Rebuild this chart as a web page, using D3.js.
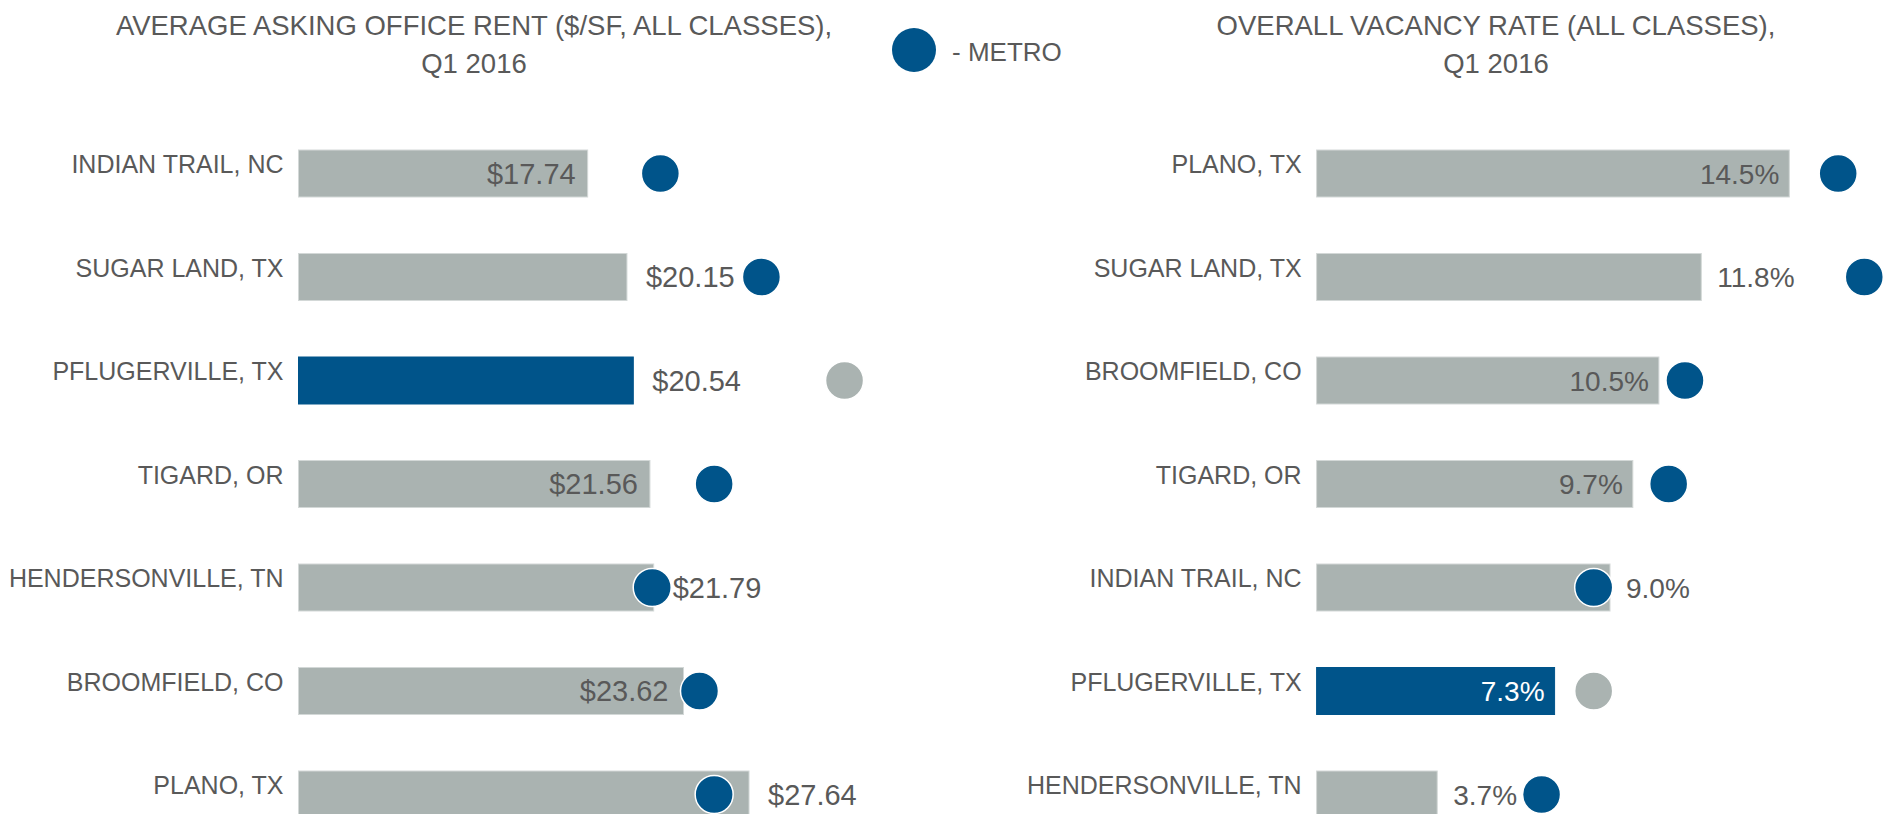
<!DOCTYPE html>
<html>
<head>
<meta charset="utf-8">
<script src="https://cdnjs.cloudflare.com/ajax/libs/d3/7.8.5/d3.min.js"></script>
<style>
  body { margin: 0; background: #fff; }
  text { font-family: "Liberation Sans", Arial, sans-serif; fill: #595959; }
</style>
</head>
<body>
<div id="chart"></div>
<script>
// Left panel: asking rent
let rentCities = ["INDIAN TRAIL, NC", "SUGAR LAND, TX", "PFLUGERVILLE, TX", "TIGARD, OR",
                  "HENDERSONVILLE, TN", "BROOMFIELD, CO", "PLANO, TX"];
let rentValues = [17.74, 20.15, 20.54, 21.56, 21.79, 23.62, 27.64];
let rentMetro  = [22.2, 28.4, 33.5, 25.5, 21.7, 24.6, 25.5];
let rentLabelSide = ["in", "out", "out", "in", "out", "in", "out"];

// Right panel: vacancy rate
let vacCities = ["PLANO, TX", "SUGAR LAND, TX", "BROOMFIELD, CO", "TIGARD, OR",
                 "INDIAN TRAIL, NC", "PFLUGERVILLE, TX", "HENDERSONVILLE, TN"];
let vacValues = [14.5, 11.8, 10.5, 9.7, 9.0, 7.3, 3.7];
let vacMetro  = [16.0, 16.8, 11.3, 10.8, 8.5, 8.5, 6.9];
let vacLabelSide = ["in", "out", "in", "in", "out", "in", "out"];

let highlight = "PFLUGERVILLE, TX";

let svgWidth = 1894, svgHeight = 814;
let blue = '#00548a', gray = '#aab3b1', textColor = '#595959';

let svg = d3.select('#chart')
            .append('svg')
            .attr('width', svgWidth)
            .attr('height', svgHeight);

// shared row scale
function rowScale(cats) {
    return d3.scaleBand()
             .domain(cats)
             .range([150, 150 + 6 * 103.5 + 47])
             .paddingInner(1 - 47 / 103.5)
             .paddingOuter(0);
}

function drawPanel(opts) {
    let data = opts.cities.map((c, i) => ({
        city: c, value: opts.values[i], metro: opts.metro[i], side: opts.side[i]
    }));
    let x = d3.scaleLinear().domain(opts.domain).range(opts.range);
    let y = rowScale(opts.cities);
    let g = svg.append('g');
    let r = 19;

    // title
    let title = g.append('text')
        .attr('x', opts.titleX)
        .attr('text-anchor', 'middle')
        .style('font-size', '27.5px');
    opts.title.forEach((t, i) => {
        title.append('tspan').attr('x', opts.titleX).attr('y', 35 + i * 38).text(t);
    });

    // category labels
    g.selectAll('.cat')
        .data(data).enter()
        .append('text')
        .attr('class', 'cat')
        .attr('x', x(0) - 15)
        .attr('y', d => y(d.city) + 23)
        .attr('text-anchor', 'end')
        .style('font-size', '25px')
        .text(d => d.city);

    // bars
    g.selectAll('.bar')
        .data(data).enter()
        .append('rect')
        .attr('class', 'bar')
        .attr('x', x(0))
        .attr('y', d => y(d.city))
        .attr('width', d => x(d.value) - x(0))
        .attr('height', y.bandwidth())
        .attr('fill', d => d.city === highlight ? blue : gray)
        .attr('stroke', d => d.city === highlight ? blue : '#d3d8d7')
        .attr('stroke-width', 1);

    // metro dots
    g.selectAll('.dot')
        .data(data).enter()
        .append('circle')
        .attr('class', 'dot')
        .attr('cx', d => x(d.metro))
        .attr('cy', d => y(d.city) + y.bandwidth() / 2)
        .attr('r', r)
        .attr('fill', d => d.city === highlight ? gray : blue)
        .attr('stroke', '#fff')
        .attr('stroke-width', 1.5);

    // value labels
    g.selectAll('.val')
        .data(data).enter()
        .append('text')
        .attr('class', 'val')
        .attr('x', d => d.side === 'in'
            ? Math.min(x(d.value), x(d.metro) - r) - opts.padIn
            : x(d.value) + opts.padOut)
        .attr('y', d => y(d.city) + y.bandwidth() / 2 + 10)
        .attr('text-anchor', d => d.side === 'in' ? 'end' : 'start')
        .style('font-size', opts.valSize)
        .style('fill', d => (d.city === highlight && d.side === 'in') ? '#fff' : textColor)
        .text(d => opts.fmt(d.value));
}

drawPanel({
    cities: rentCities, values: rentValues, metro: rentMetro, side: rentLabelSide,
    domain: [0, 35], range: [298.5, 298.5 + 16.3 * 35],
    title: ["AVERAGE ASKING OFFICE RENT ($/SF, ALL CLASSES),", "Q1 2016"],
    titleX: 474, padIn: 12, padOut: 19, valSize: '29px',
    fmt: v => '$' + v.toFixed(2)
});

drawPanel({
    cities: vacCities, values: vacValues, metro: vacMetro, side: vacLabelSide,
    domain: [0, 17], range: [1316.6, 1316.6 + 32.6 * 17],
    title: ["OVERALL VACANCY RATE (ALL CLASSES),", "Q1 2016"],
    titleX: 1496, padIn: 10, padOut: 16, valSize: '28px',
    fmt: v => v.toFixed(1) + '%'
});

// legend
svg.append('circle')
    .attr('cx', 914).attr('cy', 50).attr('r', 22)
    .attr('fill', blue);
svg.append('text')
    .attr('x', 952).attr('y', 61)
    .style('font-size', '26px')
    .text('- METRO');
</script>
</body>
</html>
